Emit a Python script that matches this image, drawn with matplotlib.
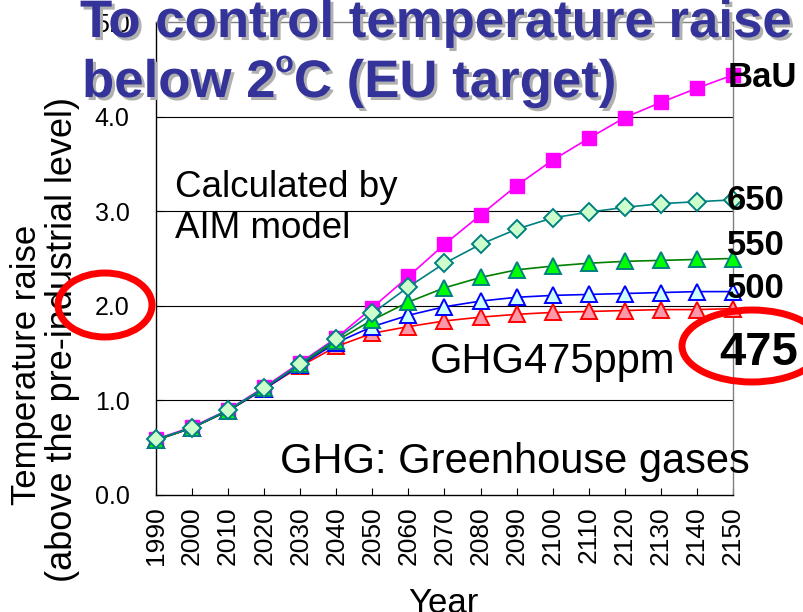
import numpy as np
import matplotlib
matplotlib.use("Agg")
import matplotlib.pyplot as plt
import matplotlib.patheffects as pe
from matplotlib.patches import Ellipse
from matplotlib.transforms import IdentityTransform

plt.rcParams['font.family'] = ['Liberation Sans', 'DejaVu Sans']

# ---------------- data ----------------
years = [1990, 2000, 2010, 2020, 2030, 2040, 2050, 2060, 2070, 2080,
         2090, 2100, 2110, 2120, 2130, 2140, 2150]
bau  = [0.59, 0.72, 0.90, 1.14, 1.40, 1.66, 1.98, 2.31, 2.65, 2.96,
        3.27, 3.54, 3.77, 3.99, 4.15, 4.30, 4.44]
s650 = [0.59, 0.71, 0.90, 1.13, 1.39, 1.65, 1.92, 2.20, 2.45, 2.65,
        2.81, 2.93, 2.99, 3.04, 3.08, 3.10, 3.12]
s550 = [0.58, 0.71, 0.89, 1.13, 1.38, 1.63, 1.85, 2.04, 2.19, 2.30,
        2.38, 2.42, 2.45, 2.47, 2.48, 2.49, 2.50]
s500 = [0.58, 0.71, 0.89, 1.12, 1.37, 1.61, 1.78, 1.90, 1.99, 2.05,
        2.09, 2.11, 2.12, 2.13, 2.14, 2.15, 2.15]
s475 = [0.58, 0.71, 0.89, 1.12, 1.36, 1.57, 1.71, 1.78, 1.84, 1.88,
        1.91, 1.93, 1.94, 1.95, 1.96, 1.96, 1.97]
yticks = [0.0, 1.0, 2.0, 3.0, 4.0, 5.0]
ytick_labels = ["0.0", "1.0", "2.0", "3.0", "4.0", "5.0"]

W, H = 804, 612
fig = plt.figure(figsize=(W / 100, H / 100), dpi=100)
L, R, T, B = 156, 733, 22, 495
ax = fig.add_axes([L / W, 1 - B / H, (R - L) / W, (B - T) / H])

x = np.arange(len(years))

ax.plot(x, bau, color='#FF00FF', lw=1.2, marker='s', ms=10,
        mfc='#FF00FF', mec='#FF00FF', clip_on=False, zorder=3)
ax.plot(x, s475, color='#FF0000', lw=1.2, marker='^', ms=11.5,
        mfc='#FF99AA', mec='#FF0000', mew=1.4, clip_on=False, zorder=3)
ax.plot(x, s500, color='#0000FF', lw=1.2, marker='^', ms=11.5,
        mfc='#CCFFFF', mec='#0000FF', mew=1.4, clip_on=False, zorder=3)
ax.plot(x, s550, color='#008000', lw=1.2, marker='^', ms=11.5,
        mfc='#00FF00', mec='#008080', mew=1.4, clip_on=False, zorder=3)
ax.plot(x, s650, color='#008080', lw=1.2, marker='D', ms=9,
        mfc='#CCFFCC', mec='#008080', mew=1.4, clip_on=False, zorder=3)

ax.set_xlim(0, len(years) - 1)
ax.set_ylim(0, 5)
ax.set_xticks(x)
ax.set_xticklabels([str(y) for y in years], rotation=90, fontsize=19)
ax.set_yticks(yticks)
ax.set_yticklabels(ytick_labels, fontsize=18)
ax.tick_params(axis='x', direction='in', length=5, width=0.8, pad=8)
ax.tick_params(axis='y', direction='in', length=5, width=0.8, pad=19)
for yv in yticks[1:-1]:
    ax.axhline(yv, color='black', lw=0.8, zorder=1)
ax.spines['left'].set_color('black')
ax.spines['bottom'].set_color('black')
ax.spines['top'].set_color('#808080')
ax.spines['right'].set_color('#808080')
for s in ax.spines.values():
    s.set_linewidth(1.0)

def px(xp, yp):
    return xp / W, 1 - yp / H

# title with shadow
shadow = [pe.SimplePatchShadow(offset=(2.2, -2.2), shadow_rgbFace='#B0B0B0', alpha=1.0),
          pe.Normal()]
tkw = dict(fontweight='bold', color='#333399', va='baseline', ha='left',
           path_effects=shadow, zorder=10)
fig.text(*px(80, 37), "To control temperature raise", fontsize=38, **tkw)
t1 = fig.text(*px(82, 97), "below 2", fontsize=38, **tkw)
fig.canvas.draw()
r = fig.canvas.get_renderer()
e1 = t1.get_window_extent(r)
t2 = fig.text(e1.x1 / W, 1 - 72 / H, "o", fontsize=22, **tkw)
e2 = t2.get_window_extent(r)
fig.text(e2.x1 / W, 1 - 97 / H, "C (EU target)", fontsize=38, **tkw)

# axis labels
fig.text(*px(27, 365), "Temperature raise", rotation=90, fontsize=25,
         ha='center', va='center')
fig.text(*px(63, 340), "(above the pre-industrial level)", rotation=90,
         fontsize=26, ha='center', va='center')
fig.text(*px(443, 613), "Year", fontsize=25, ha='center', va='baseline')

# annotations
fig.text(*px(175, 197), "Calculated by", fontsize=26.5, va='baseline')
fig.text(*px(175, 238), "AIM model", fontsize=26.5, va='baseline')
fig.text(*px(430, 373), "GHG475ppm", fontsize=30, va='baseline')
fig.text(*px(280, 473), "GHG: Greenhouse gases", fontsize=30, va='baseline')

fig.text(*px(728, 87), "BaU", fontsize=25, fontweight='bold', va='baseline', zorder=10)
fig.text(*px(727, 210), "650", fontsize=25, fontweight='bold', va='baseline', zorder=10)
fig.text(*px(727, 255), "550", fontsize=25, fontweight='bold', va='baseline', zorder=10)
fig.text(*px(727, 298), "500", fontsize=25, fontweight='bold', va='baseline', zorder=10)
fig.text(*px(719, 365), "475", fontsize=34, fontweight='bold', va='baseline', zorder=10)

# red ellipses
fig.add_artist(Ellipse((105, H - 305), 94, 64, fill=False, edgecolor='#FF0000',
                       lw=5, transform=IdentityTransform(), zorder=11))
fig.add_artist(Ellipse((752, H - 346), 140, 72, fill=False, edgecolor='#FF0000',
                       lw=5, transform=IdentityTransform(), zorder=11))

fig.savefig('out.png', dpi=100)
